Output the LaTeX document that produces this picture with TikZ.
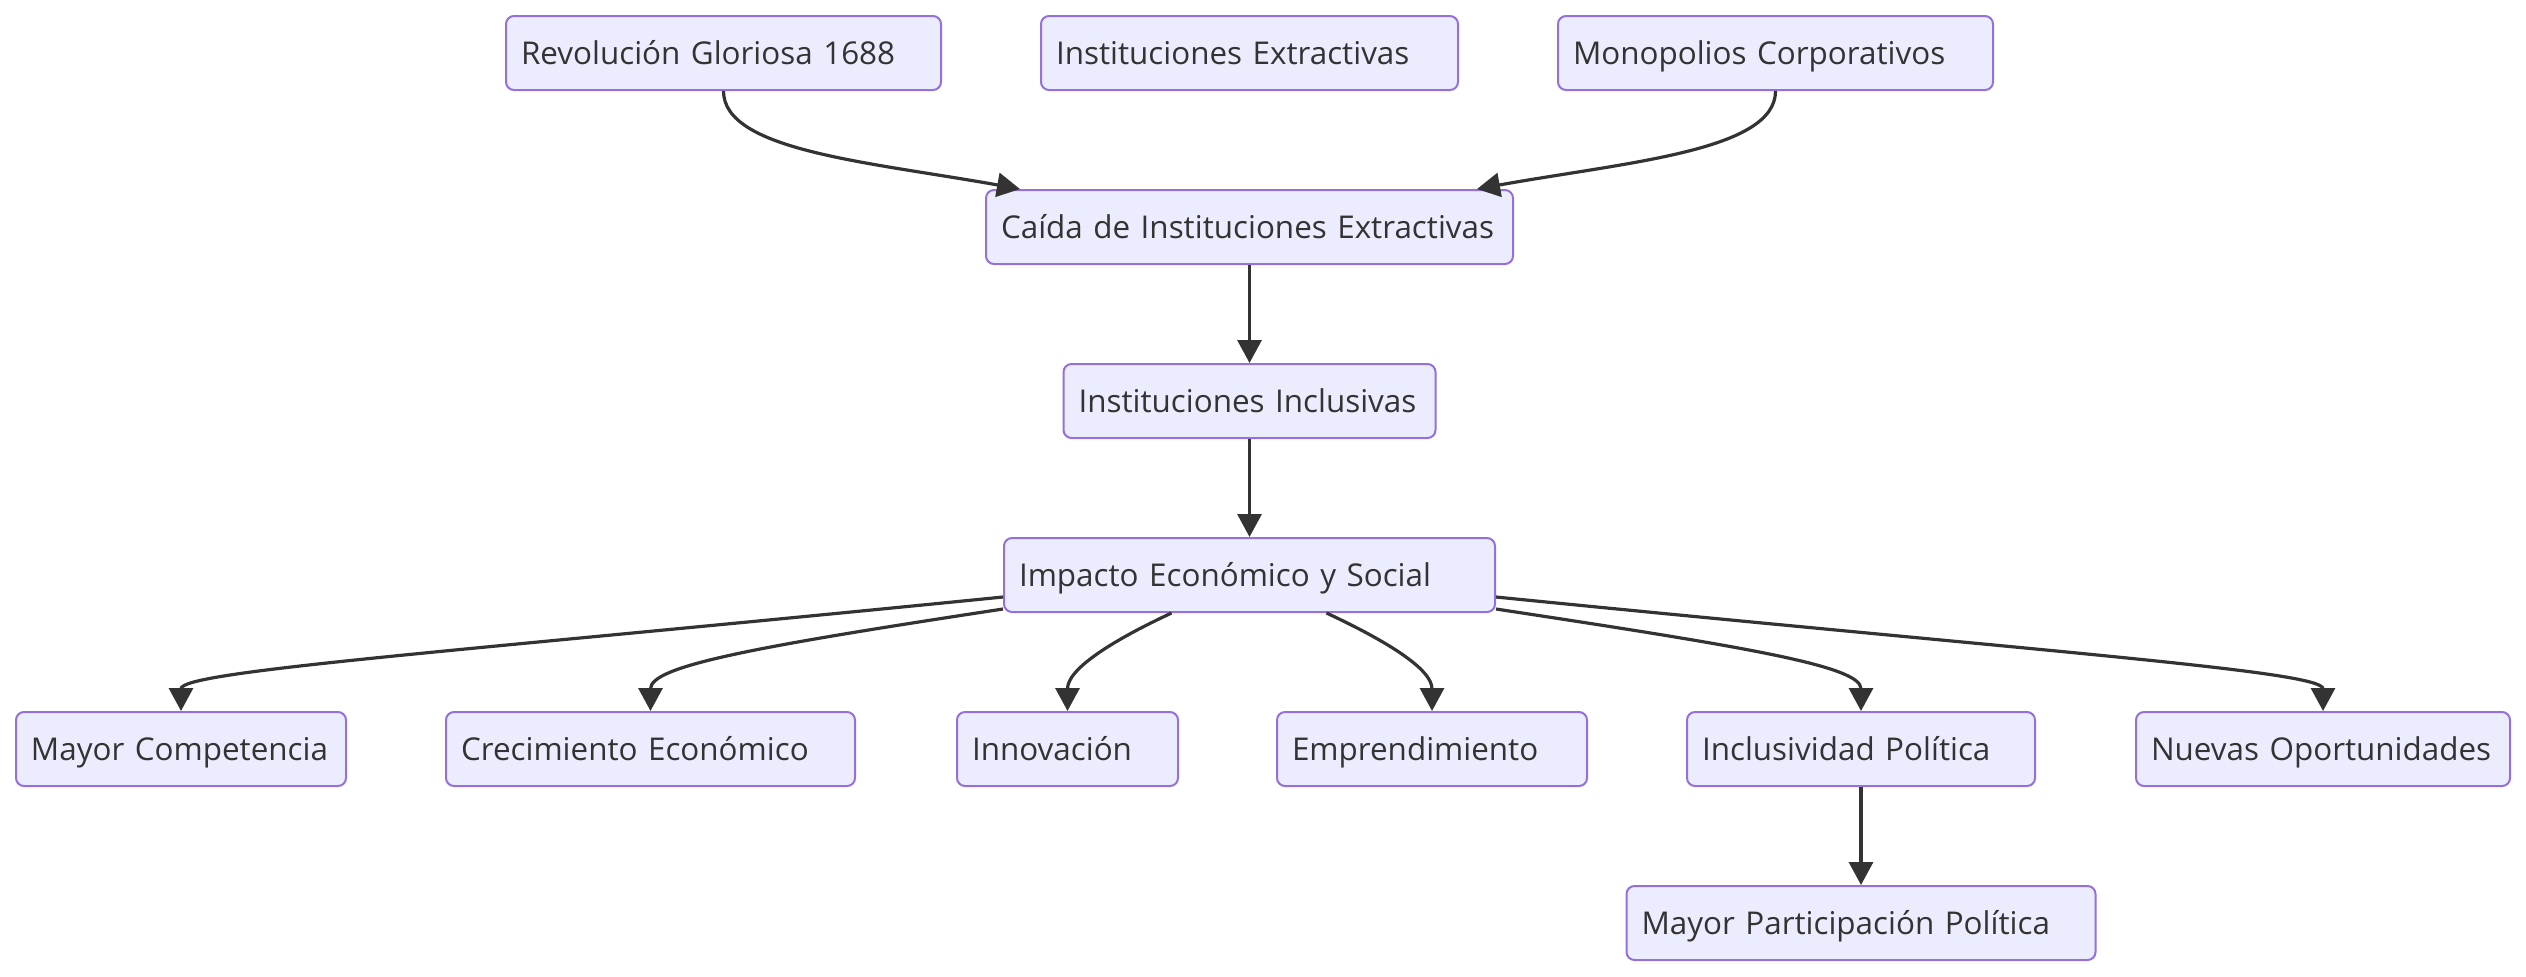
\documentclass[tikz,border=0pt]{standalone}
\usepackage{fontspec}
\setmainfont{Open Sans}
\usepackage{tikz}
\usepackage{xcolor}
\usetikzlibrary{arrows.meta,calc}
\definecolor{cajafondo}{HTML}{ECECFF}
\definecolor{cajaborde}{HTML}{9370DB}
\definecolor{linea}{HTML}{333333}

\begin{document}
\begin{tikzpicture}[x=0.5pt, y=-0.5pt,
  caja/.style={rectangle, fill=cajafondo, rounded corners=4pt, draw=cajaborde, line width=1pt, inner xsep=7.5pt, inner ysep=0pt, minimum height=37pt, text height=13pt, text depth=1.3pt, align=left, text=linea, font=\fontsize{15.7pt}{19pt}\selectfont,
    execute at begin node={\hbox to \linewidth\bgroup}, execute at end node={\hss\egroup}},
  flecha/.style={draw=linea, line width=1.6pt, -{Triangle[length=11.5pt,width=12pt]}}]
\useasboundingbox (0,0) rectangle (2526,976);

\node[caja, text width=202.5pt] (R1688) at (723.5,53) {Revolución Gloriosa 1688};
\node[caja, text width=193.5pt] (IExt) at (1249.5,53) {Instituciones Extractivas};
\node[caja, text width=202.5pt] (MonC) at (1775.5,53) {Monopolios Corporativos};
\node[caja, text width=248.5pt] (Caida) at (1249.5,227) {Caída de Instituciones Extractivas};
\node[caja, text width=171pt] (IIncl) at (1249.5,401) {Instituciones Inclusivas};
\node[caja, text width=230.5pt] (Imp) at (1249.5,575) {Impacto Económico y Social};
\node[caja, text width=150pt] (MComp) at (181,749) {Mayor Competencia};
\node[caja, text width=189.5pt] (CrecE) at (650.5,749) {Crecimiento Económico};
\node[caja, text width=95.5pt] (Innov) at (1067.5,749) {Innovación};
\node[caja, text width=140pt] (Empr) at (1432,749) {Emprendimiento};
\node[caja, text width=159pt] (IPol) at (1861,749) {Inclusividad Política};
\node[caja, text width=172pt] (NOport) at (2323,749) {Nuevas Oportunidades};
\node[caja, text width=219.5pt] (MPart) at (1861,923) {Mayor Participación Política};

\draw[flecha] (R1688.south) .. controls ($(R1688.south)+(0,60)$) and ($(Caida.north west)+(-115,-27)$) .. ($(Caida.north west)+(35,0)$);
\draw[flecha] (MonC.south) .. controls ($(MonC.south)+(0,60)$) and ($(Caida.north east)+(113,-27)$) .. ($(Caida.north east)+(-37,0)$);
\draw[flecha] (Caida.south) -- (IIncl.north);
\draw[flecha] (IIncl.south) -- (Imp.north);
\draw[flecha] ($(Imp.south west)+(0,-16)$) .. controls ($(Imp.south west)+(-550,39)$) and ($(MComp.north)+(0,-40)$) .. (MComp.north);
\draw[flecha] ($(Imp.south west)+(0,-4)$) .. controls ($(Imp.south west)+(-250,34)$) and ($(CrecE.north)+(0,-45)$) .. (CrecE.north);
\draw[flecha] ($(Imp.south)+(-78,0)$) .. controls ($(Imp.south)+(-138,28)$) and ($(Innov.north)+(0,-42)$) .. (Innov.north);
\draw[flecha] ($(Imp.south)+(77,0)$) .. controls ($(Imp.south)+(137,28)$) and ($(Empr.north)+(0,-42)$) .. (Empr.north);
\draw[flecha] ($(Imp.south east)+(0,-4)$) .. controls ($(Imp.south east)+(250,34)$) and ($(IPol.north)+(0,-45)$) .. (IPol.north);
\draw[flecha] ($(Imp.south east)+(0,-16)$) .. controls ($(Imp.south east)+(550,39)$) and ($(NOport.north)+(0,-40)$) .. (NOport.north);
\draw[flecha] (IPol.south) -- (MPart.north);
\end{tikzpicture}
\end{document}
